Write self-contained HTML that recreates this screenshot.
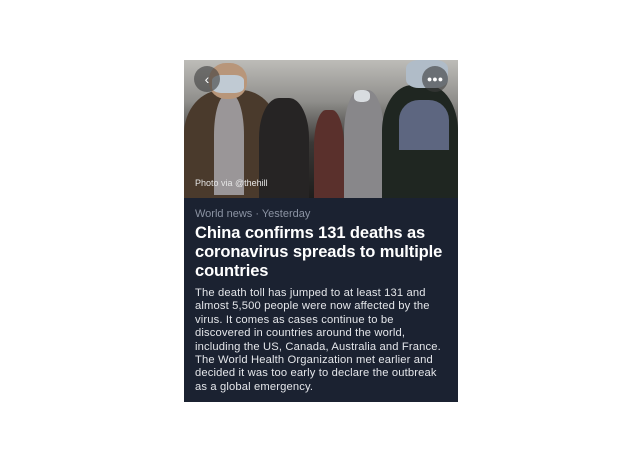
<!DOCTYPE html>
<html><head><meta charset="utf-8"><style>
html,body{margin:0;padding:0;background:#fff;width:640px;height:453px;overflow:hidden}
.card{position:absolute;left:184px;top:60px;width:274px;height:342px;background:#1b2231;overflow:hidden;font-family:"Liberation Sans",sans-serif}
.photo{position:absolute;left:0;top:0;width:274px;height:138px;background:linear-gradient(#bdbcb8 0%,#8f8e8b 30%,#3a3836 60%,#1e1d1c 100%);overflow:hidden}
.fig{position:absolute;border-radius:40% 40% 0 0}
.cap{position:absolute;left:11px;top:118px;color:#e6e6e6;font-size:9px}
.meta{position:absolute;left:11px;top:148px;color:#8b93a3;font-size:11px}
h1{position:absolute;left:11px;top:164px;margin:0;width:262px;color:#fff;font-size:16.5px;line-height:19px;font-weight:bold;letter-spacing:-0.1px}
p{position:absolute;left:11px;top:227px;margin:0;width:270px;color:#e4e6ea;font-size:11.2px;line-height:13.4px;white-space:nowrap;letter-spacing:0.15px}
.btn{position:absolute;top:6px;width:26px;height:26px;border-radius:50%;background:rgba(60,60,60,0.6);color:#fff;text-align:center;font-size:14px;line-height:26px}
</style></head><body>
<div class="card">
<div class="photo">
<div class="fig" style="left:0;top:30px;width:95px;height:110px;background:#4a3a2c"></div>
<div class="fig" style="left:30px;top:35px;width:30px;height:100px;background:#9a9698"></div>
<div class="fig" style="left:25px;top:3px;width:38px;height:36px;background:#b8967a;border-radius:45%"></div>
<div class="fig" style="left:28px;top:15px;width:32px;height:18px;background:#c0cad3;border-radius:30%"></div>
<div class="fig" style="left:75px;top:38px;width:50px;height:100px;background:#262424"></div>
<div class="fig" style="left:130px;top:50px;width:30px;height:90px;background:#5a302c"></div>
<div class="fig" style="left:160px;top:30px;width:40px;height:110px;background:#88878a"></div>
<div class="fig" style="left:170px;top:30px;width:16px;height:12px;background:#d8dce0;border-radius:40%"></div>
<div class="fig" style="left:198px;top:25px;width:76px;height:115px;background:#1f2621"></div>
<div class="fig" style="left:215px;top:40px;width:50px;height:50px;background:#5d6680"></div>
<div class="fig" style="left:222px;top:0;width:42px;height:28px;background:#b0bcc8;border-radius:30%"></div>
<div class="btn" style="left:10px">&#8249;</div>
<div class="btn" style="left:238px;font-size:9px">●●●</div>
<div class="cap">Photo via @thehill</div>
</div>
<div class="meta">World news · Yesterday</div>
<h1>China confirms 131 deaths as coronavirus spreads to multiple countries</h1>
<p>The death toll has jumped to at least 131 and<br>almost 5,500 people were now affected by the<br>virus. It comes as cases continue to be<br>discovered in countries around the world,<br>including the US, Canada, Australia and France.<br>The World Health Organization met earlier and<br>decided it was too early to declare the outbreak<br>as a global emergency.</p>
</div>
</body></html>
